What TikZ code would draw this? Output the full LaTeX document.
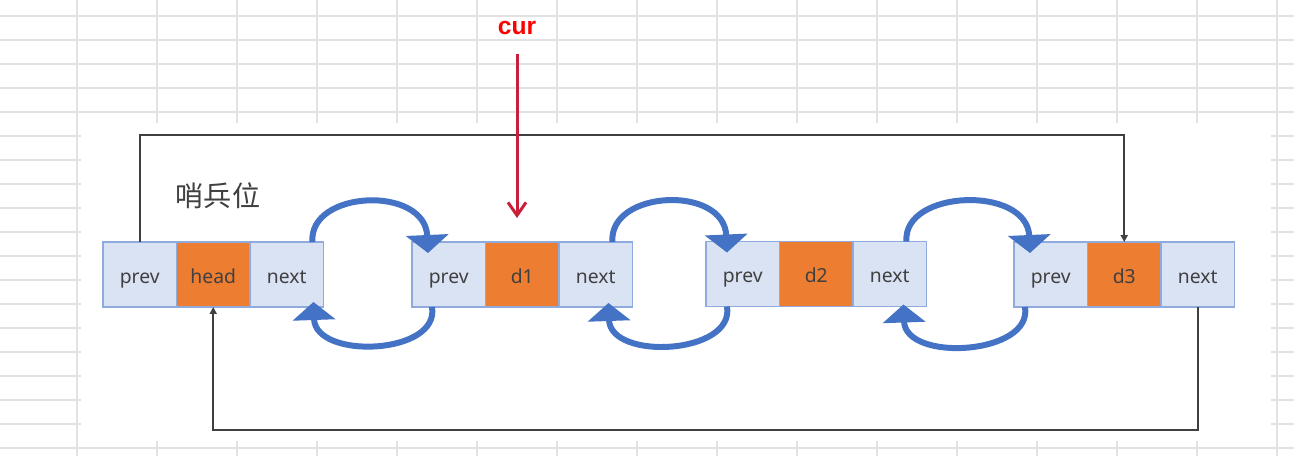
\documentclass[tikz,border=0pt]{standalone}
\usepackage{fontspec}
\setmainfont{Noto Sans}
\newfontfamily\cjk{Noto Sans CJK SC}
\newfontfamily\curfont{Liberation Sans}
\usetikzlibrary{arrows.meta, positioning}

\definecolor{cellblue}{HTML}{DAE3F3}
\definecolor{cellline}{HTML}{8FAADC}
\definecolor{dataorange}{HTML}{ED7D31}
\definecolor{linkblue}{HTML}{4472C4}
\definecolor{wiregray}{HTML}{404040}
\definecolor{curred}{HTML}{C8203A}
\definecolor{gridgray}{HTML}{E2E2E2}

\begin{document}
\begin{tikzpicture}[
    x=0.02cm, y=-0.02cm,
    cell/.style={draw=cellline, fill=cellblue, line width=0.6pt,
                 minimum width=1.47cm, minimum height=1.3cm,
                 inner sep=0pt, outer sep=0pt, text=wiregray,
                 text height=10pt, text depth=0pt,
                 font=\fontsize{11}{13}\selectfont},
    datacell/.style={cell, fill=dataorange},
    link/.style={draw=linkblue, line width=3.4pt,
                 -{Triangle[width=0.84cm, length=0.36cm]}},
    wire/.style={draw=wiregray, line width=1.1pt,
                 -{Triangle[width=0.14cm, length=0.14cm]}},
    curarrow/.style={draw=curred, line width=1.7pt,
                 -{Straight Barb[width=0.36cm, length=0.26cm]}},
    gridline/.style={draw=gridgray, line width=0.6pt}
]
\useasboundingbox (0,0) rectangle (1294,456);

% Spreadsheet background
\fill[white] (0,0) rectangle (1294,456);
\foreach \gy in {16,40,...,448} \draw[gridline] (0,\gy) -- (1294,\gy);
\foreach \gx in {77,157,...,1277} \draw[gridline] (\gx,0) -- (\gx,456);
\fill[white] (81,123) rectangle (1271,441);

% Sentinel node
\node[cell, anchor=west] (prev0) at (103,274.5) {prev};
\node[datacell, right=0pt of prev0] (head) {head};
\node[cell, right=0pt of head] (next0) {next};

% Data nodes
\node[cell, anchor=west] (prev1) at (412,274.5) {prev};
\node[datacell, right=0pt of prev1] (d1) {d1};
\node[cell, right=0pt of d1] (next1) {next};

\node[cell, anchor=west] (prev2) at (706,274) {prev};
\node[datacell, right=0pt of prev2] (d2) {d2};
\node[cell, right=0pt of d2] (next2) {next};

\node[cell, anchor=west] (prev3) at (1014,274.5) {prev};
\node[datacell, right=0pt of prev3] (d3) {d3};
\node[cell, right=0pt of d3] (next3) {next};

% Labels
\node[text=wiregray, font=\cjk\fontsize{16}{18}\selectfont] (sentinel) at (218,196) {哨兵位};
\node[text=red, font=\curfont\bfseries\fontsize{14}{16}\selectfont, inner sep=0pt] (cur) at (517,28) {cur};
\coordinate (curend) at (517,218);

% next -> prev links
\draw[link] ([xshift=-0.22cm]next0.north east) .. controls +(-4,-52) and +(-3,-68) .. ([xshift=0.32cm, yshift=-0.22cm]prev1.north west);
\draw[link] ([xshift=-0.4cm]next1.north east) .. controls +(-4,-52) and +(-3,-68) .. ([xshift=0.42cm, yshift=-0.22cm]prev2.north west);
\draw[link] ([xshift=-0.4cm]next2.north east) .. controls +(-4,-52) and +(-3,-68) .. ([xshift=0.32cm, yshift=-0.22cm]prev3.north west);

% prev -> next links
\draw[link] ([xshift=0.4cm]prev1.south west) .. controls +(8,48) and +(2,58) .. ([xshift=-0.2cm, yshift=0.1cm]next0.south east);
\draw[link] ([xshift=0.42cm]prev2.south west) .. controls +(8,48) and +(2,58) .. ([xshift=-0.48cm, yshift=0.08cm]next1.south east);
\draw[link] ([xshift=0.22cm]prev3.south west) .. controls +(8,48) and +(2,58) .. ([xshift=-0.46cm, yshift=0.04cm]next2.south east);

% Circular wires
\draw[wire] (prev0.north) -- ++(0,-107) -| (d3.north);
\draw[wire] (next3.south) -- ++(0,123) -| (head.south);

% Current pointer
\draw[curarrow, shorten <=0.38cm] (cur.south) -- (curend);
\end{tikzpicture}
\end{document}
